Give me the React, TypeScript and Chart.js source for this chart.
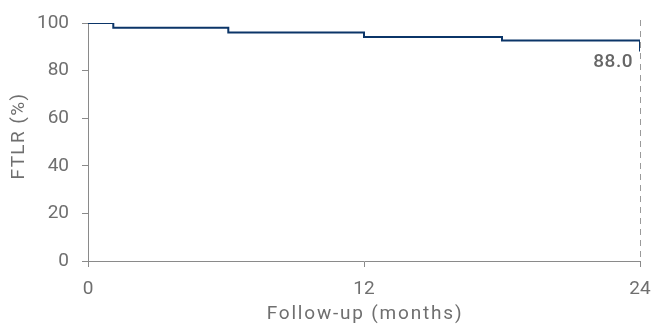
import React, { useEffect, useRef } from "react";
import { Chart, registerables } from "chart.js";

Chart.register(...registerables);

const months = [0, 1.1, 6.1, 12, 18, 24];
const ftlr = [100, 98.0, 96.0, 94.1, 92.6, 88.0];
const xTicks = [0, 12, 24];
const yTicks = [0, 20, 40, 60, 80, 100];
const endLabel = "88.0";
const xTitle = "Follow-up (months)";
const yTitle = "FTLR (%)";

const FONT = "Roboto";
const GREY = "#6f6f6f";
const AXIS = "#8a8a8a";

const endPlugin = {
  id: "endMarker",
  afterDatasetsDraw(chart: any) {
    const { ctx, chartArea, scales } = chart;
    const x = scales.x.getPixelForValue(months[months.length - 1]);
    ctx.save();
    ctx.strokeStyle = "#9a9a9a";
    ctx.lineWidth = 1;
    ctx.setLineDash([6, 5]);
    ctx.beginPath();
    ctx.moveTo(x + 0.5, chartArea.top - 3);
    ctx.lineTo(x + 0.5, chartArea.bottom);
    ctx.stroke();
    ctx.setLineDash([]);
    const y = scales.y.getPixelForValue(ftlr[ftlr.length - 1]);
    ctx.fillStyle = "#666666";
    ctx.font = `500 19px ${FONT}`;
    (ctx as any).letterSpacing = "0.5px";
    ctx.textAlign = "right";
    ctx.textBaseline = "middle";
    ctx.fillText(endLabel, x - 7, y + 11);
    ctx.restore();
  },
  afterDraw(chart: any) {
    const { ctx, chartArea } = chart;
    ctx.save();
    ctx.fillStyle = GREY;
    ctx.font = `400 19px ${FONT}`;
    (ctx as any).letterSpacing = "1.8px";
    ctx.textAlign = "center";
    ctx.textBaseline = "middle";
    ctx.fillText(xTitle, (chartArea.left + chartArea.right) / 2 + 1, 314);
    ctx.translate(19, 136);
    ctx.rotate(-Math.PI / 2);
    (ctx as any).letterSpacing = "1.4px";
    ctx.fillText(yTitle, 0, 0);
    ctx.restore();
  },
};

export default function App() {
  const ref = useRef<HTMLCanvasElement>(null);
  useEffect(() => {
    if (!ref.current) return;
    const chart = new Chart(ref.current, {
      type: "line",
      data: {
        datasets: [
          {
            data: months.map((m, i) => ({ x: m, y: ftlr[i] })),
            stepped: true,
            borderColor: "#0b3568",
            borderWidth: 2,
            pointRadius: 0,
            fill: false,
          },
        ],
      },
      plugins: [endPlugin],
      options: {
        animation: false,
        responsive: false,
        maintainAspectRatio: false,
        layout: { padding: { top: 23, right: 15, left: 0, bottom: 0 } },
        plugins: { legend: { display: false }, tooltip: { enabled: false } },
        scales: {
          x: {
            type: "linear",
            min: 0,
            max: 24,
            afterBuildTicks: (s: any) => {
              s.ticks = xTicks.map((v) => ({ value: v }));
            },
            afterFit: (s: any) => {
              s.height = 64;
              s.paddingLeft = 0;
              s.paddingRight = 0;
            },
            grid: {
              drawOnChartArea: false,
              drawTicks: true,
              tickLength: 6,
              color: AXIS,
            },
            border: { display: true, color: AXIS, width: 1 },
            ticks: {
              color: GREY,
              padding: 11,
              maxRotation: 0,
              font: { family: FONT, size: 19, weight: "400" },
            },
          },
          y: {
            type: "linear",
            min: 0,
            max: 100,
            afterBuildTicks: (s: any) => {
              s.ticks = yTicks.map((v) => ({ value: v }));
            },
            afterFit: (s: any) => {
              s.width = 88;
              s.paddingTop = 0;
              s.paddingBottom = 0;
            },
            grid: {
              drawOnChartArea: false,
              drawTicks: true,
              tickLength: 6,
              color: AXIS,
            },
            border: { display: true, color: AXIS, width: 1 },
            ticks: {
              color: GREY,
              padding: 13,
              font: { family: FONT, size: 19, weight: "400" },
            },
          },
        },
      },
    });
    return () => chart.destroy();
  }, []);
  return (
    <div style={{ position: "fixed", left: 0, top: 0, width: 655, height: 325, background: "#fff" }}>
      <canvas ref={ref} width={655} height={325} style={{ width: 655, height: 325, display: "block" }} />
    </div>
  );
}
